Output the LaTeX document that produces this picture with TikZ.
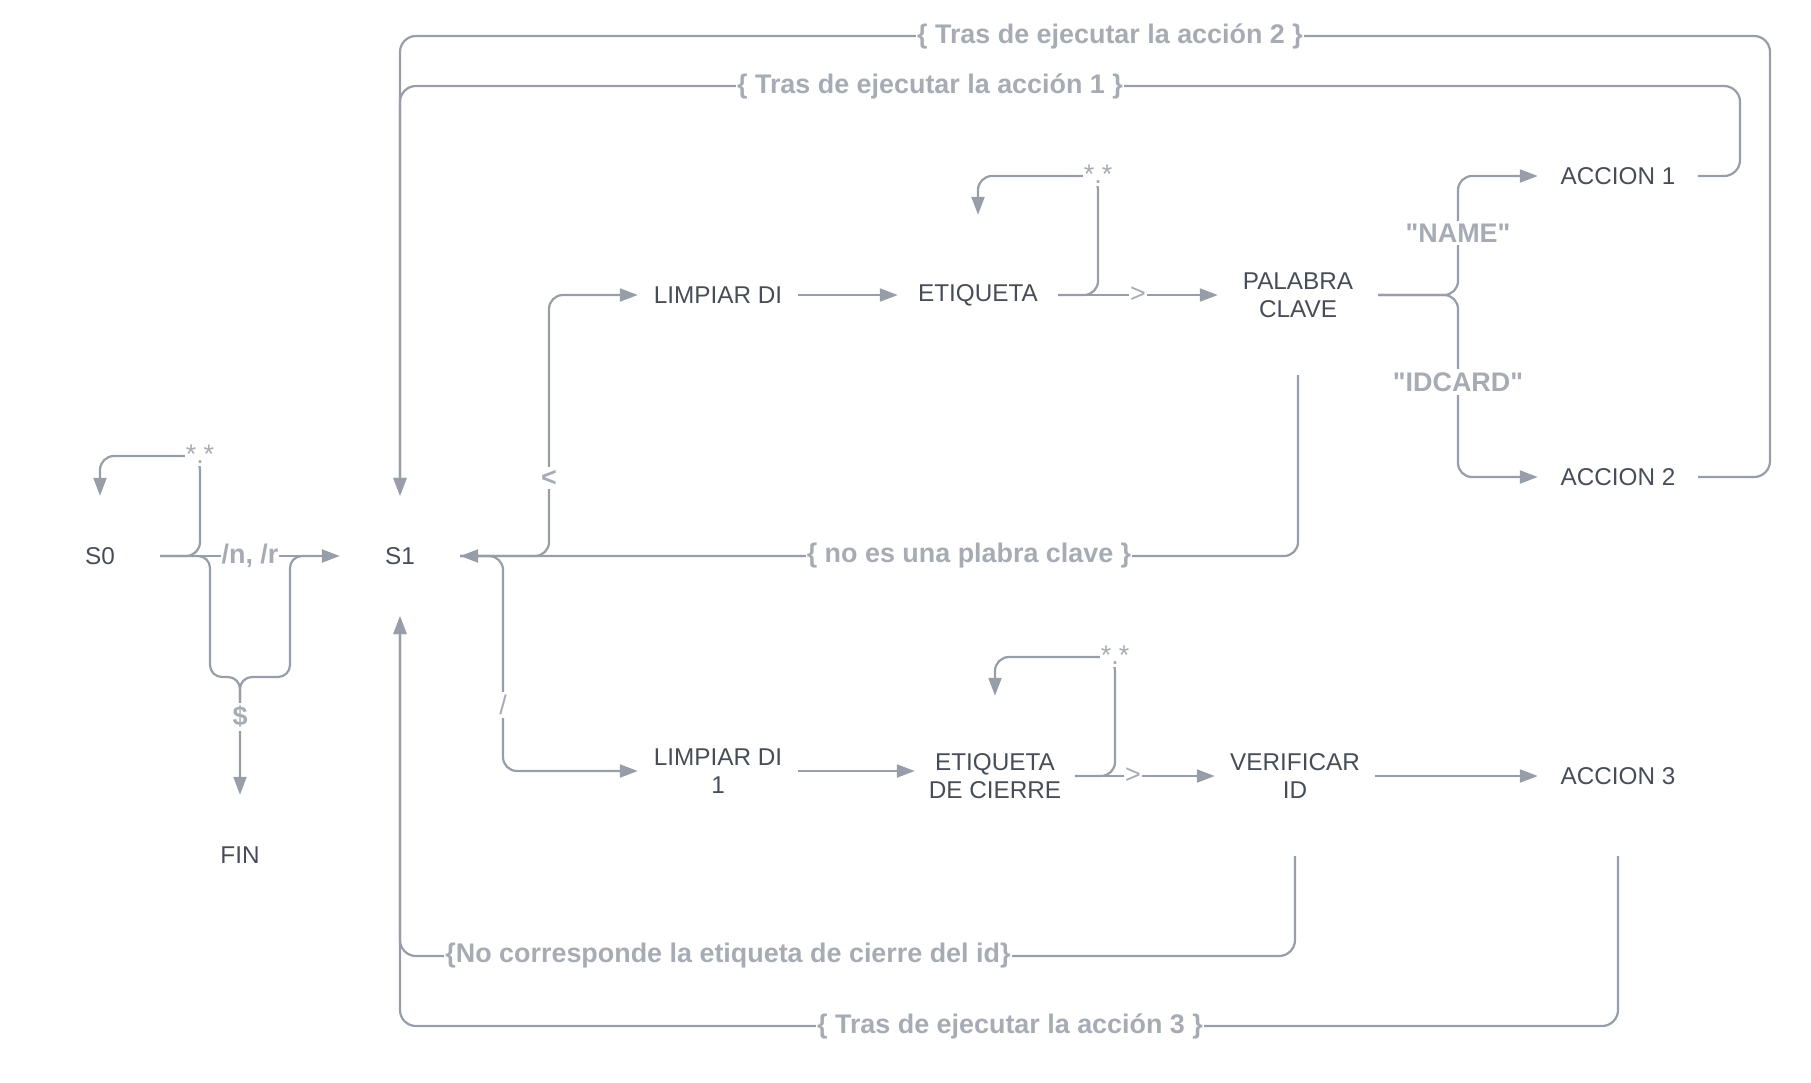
\documentclass[tikz,border=0pt]{standalone}
\usepackage{fontspec}
\setmainfont{Liberation Sans}[Ligatures=TeXOff]
\usetikzlibrary{arrows.meta}
\definecolor{linec}{HTML}{979EA8}
\definecolor{lblc}{HTML}{A7ACB4}
\definecolor{txtc}{HTML}{474D57}
\begin{document}
\begin{tikzpicture}[x=1pt,y=-1pt,
  state/.style={text=txtc, font=\fontsize{24.3}{28}\selectfont, align=center,
    minimum width=160pt, minimum height=160pt, inner sep=0pt},
  small/.style={state, minimum width=120pt, minimum height=120pt},
  conn/.style={draw=linec, line width=2.2pt, rounded corners=14pt},
  arr/.style={conn, -{Triangle[length=18pt,width=13pt]}},
  lbl/.style={fill=white, text=lblc, font=\fontsize{26.9}{30}\selectfont\bfseries,
    inner xsep=1pt, inner ysep=3pt},
  lblr/.style={lbl, font=\fontsize{26.9}{30}\selectfont}]
\useasboundingbox (0,0) rectangle (1811,1082);

% states
\node[small] (S0) at (100,556) {S0};
\node[small] (S1) at (400,556) {S1};
\node[small] (FIN) at (240,855) {FIN};
\node[state] (LDI) at (718,295) {LIMPIAR DI};
\node[state] (ET) at (978,295) {ETIQUETA};
\node[state] (PC) at (1298,295) {PALABRA\\CLAVE};
\node[state] (A1) at (1618,176) {ACCION 1};
\node[state] (A2) at (1618,477) {ACCION 2};
\node[state] (LDI1) at (718,771) {LIMPIAR DI\\1};
\node[state] (EDC) at (995,776) {ETIQUETA\\DE CIERRE};
\node[state] (VER) at (1295,776) {VERIFICAR\\ID};
\node[state] (A3) at (1618,776) {ACCION 3};

% connectors
\draw[arr] (S0.east) -- (S1.west);
\draw[arr] (S0.east) -- (200,556) -- (200,456) -- (100,456) -- (S0.north);
\draw[arr, rounded corners=12pt] (S0.east) -- (210,556) -- (210,677) -- (240,677) -- (FIN.north);
\draw[conn, rounded corners=12pt] (240,705) -- (240,677) -- (290,677) -- (290,556) -- (320,556);

\draw[arr] (S1.east) -- (549,556) -- (549,295) -- (LDI.west);
\draw[arr] (S1.east) -- (503,556) -- (503,771) -- (LDI1.west);
\draw[arr] (PC.south) -- (1298,556) -- (S1.east);

\draw[arr] (LDI.east) -- (ET.west);
\draw[arr] (ET.east) -- (PC.west);
\draw[arr] (ET.east) -- (1098,295) -- (1098,176) -- (978,176) -- (ET.north);
\draw[arr] (PC.east) -- (1458,295) -- (1458,176) -- (A1.west);
\draw[arr] (PC.east) -- (1458,295) -- (1458,477) -- (A2.west);
\draw[arr, rounded corners=16pt] (A1.east) -- (1740,176) -- (1740,86) -- (400,86) -- (S1.north);
\draw[arr, rounded corners=16pt] (A2.east) -- (1770,477) -- (1770,36) -- (400,36) -- (S1.north);

\draw[arr] (LDI1.east) -- (LDI1.east -| EDC.west);
\draw[arr] (EDC.east) -- (VER.west);
\draw[arr] (EDC.east) -- (1115,776) -- (1115,657) -- (995,657) -- (EDC.north);
\draw[arr] (VER.east) -- (A3.west);
\draw[arr, rounded corners=16pt] (VER.south) -- (1295,956) -- (400,956) -- (S1.south);
\draw[arr, rounded corners=16pt] (A3.south) -- (1618,1026) -- (400,1026) -- (S1.south);

% labels
\node[lbl] (lnr) at (250,556) {/n, /r};
\node[lblr] (ls0) at (200,454) {*.*};
\node[lbl] (ldol) at (240,717) {\$};
\node[lbl] (llt) at (549,478) {<};
\node[lblr] (lsl) at (503,705) {/};
\node[lbl] (lnoes) at (969,556) {\{ no es una plabra clave \}};
\node[lblr] (let) at (1098,174) {*.*};
\node[lblr] (lgt1) at (1138,295) {>};
\node[lbl] (lname) at (1458,233) {"NAME"};
\node[lbl] (lid) at (1458,382) {"IDCARD"};
\node[lbl] (la1) at (930,86) {\{ Tras de ejecutar la acción 1 \}};
\node[lbl] (la2) at (1110,36) {\{ Tras de ejecutar la acción 2 \}};
\node[lblr] (ledc) at (1115,655) {*.*};
\node[lblr] (lgt2) at (1133,776) {>};
\node[lbl] (lnoc) at (728,956) {\{No corresponde la etiqueta de cierre del id\}};
\node[lbl] (la3) at (1010,1026) {\{ Tras de ejecutar la acción 3 \}};
\end{tikzpicture}
\end{document}
